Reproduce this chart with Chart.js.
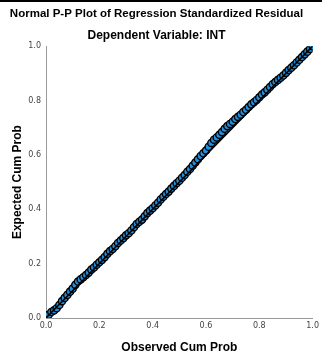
<!DOCTYPE html>
<html>
<head>
<meta charset="utf-8">
<script src="https://cdn.jsdelivr.net/npm/chart.js@4"></script>
<style>
  html, body { margin: 0; padding: 0; background: #fff; }
  #wrap { position: relative; width: 322px; height: 356px; }
</style>
</head>
<body>
<div id="wrap"><canvas id="ppPlot"></canvas></div>
<script>
// Data P-P plot
const observedCumProb = [
  0.01, 0.02, 0.03, 0.04, 0.05, 0.06, 0.07, 0.08, 0.09, 0.10,
  0.11, 0.12, 0.13, 0.14, 0.15, 0.16, 0.17, 0.18, 0.19, 0.20,
  0.21, 0.22, 0.23, 0.24, 0.25, 0.26, 0.27, 0.28, 0.29, 0.30,
  0.31, 0.32, 0.33, 0.34, 0.35, 0.36, 0.37, 0.38, 0.39, 0.40,
  0.41, 0.42, 0.43, 0.44, 0.45, 0.46, 0.47, 0.48, 0.49, 0.50,
  0.51, 0.52, 0.53, 0.54, 0.55, 0.56, 0.57, 0.58, 0.59, 0.60,
  0.61, 0.62, 0.63, 0.64, 0.65, 0.66, 0.67, 0.68, 0.69, 0.70,
  0.71, 0.72, 0.73, 0.74, 0.75, 0.76, 0.77, 0.78, 0.79, 0.80,
  0.81, 0.82, 0.83, 0.84, 0.85, 0.86, 0.87, 0.88, 0.89, 0.90,
  0.91, 0.92, 0.93, 0.94, 0.95, 0.96, 0.97, 0.98, 0.99, 1.00
];
const expectedCumProb = [
  0.012, 0.022, 0.028, 0.036, 0.048, 0.062, 0.074, 0.085, 0.097, 0.108,
  0.122, 0.134, 0.142, 0.150, 0.158, 0.167, 0.178, 0.186, 0.196, 0.205,
  0.214, 0.224, 0.236, 0.246, 0.254, 0.264, 0.276, 0.285, 0.294, 0.304,
  0.312, 0.322, 0.334, 0.346, 0.354, 0.362, 0.374, 0.386, 0.395, 0.404,
  0.414, 0.424, 0.436, 0.446, 0.456, 0.465, 0.476, 0.486, 0.496, 0.505,
  0.516, 0.526, 0.538, 0.548, 0.560, 0.572, 0.584, 0.596, 0.606, 0.616,
  0.630, 0.644, 0.656, 0.664, 0.674, 0.684, 0.696, 0.706, 0.714, 0.722,
  0.732, 0.740, 0.748, 0.758, 0.766, 0.776, 0.786, 0.794, 0.802, 0.812,
  0.822, 0.830, 0.840, 0.850, 0.860, 0.868, 0.876, 0.884, 0.892, 0.902,
  0.912, 0.921, 0.930, 0.940, 0.950, 0.960, 0.970, 0.980, 0.990, 1.000
];
// Garis referensi diagonal
const refLineX = [0, 1];
const refLineY = [0, 1];
const axisTicks = [0, 0.2, 0.4, 0.6, 0.8, 1.0];

const FONT = "'Liberation Sans', Arial, sans-serif";

// Latar putih + garis hitam di atas
const backdrop = {
    id: 'backdrop',
    beforeDraw(chart) {
        const ctx = chart.ctx;
        ctx.save();
        ctx.fillStyle = '#fff';
        ctx.fillRect(0, 0, chart.width, chart.height);
        ctx.fillStyle = '#000';
        ctx.fillRect(0, 0, chart.width, 2);
        ctx.restore();
    }
};

new Chart(document.getElementById('ppPlot'), {
    type: 'scatter',
    data: {
        datasets: [
            {
                label: 'Observed',
                data: observedCumProb.map((x, i) => ({ x, y: expectedCumProb[i] })),
                backgroundColor: '#2490dc',
                borderColor: '#000',
                borderWidth: 1.4,
                pointRadius: 3.6,
                pointHoverRadius: 3.6,
                order: 2,
            },
            {
                type: 'line',
                label: 'Reference',
                data: refLineX.map((x, i) => ({ x, y: refLineY[i] })),
                borderColor: '#000',
                borderWidth: 1.6,
                pointRadius: 0,
                fill: false,
                order: 1,
            },
        ],
    },
    options: {
        responsive: true,
        maintainAspectRatio: false,
        animation: false,
        layout: { padding: { top: 0, right: 9, left: 0, bottom: 0 } },
        plugins: {
            legend: { display: false },
            tooltip: { enabled: false },
            title: {
                display: true,
                text: 'Normal P-P Plot of Regression Standardized Residual',
                color: '#000',
                font: { family: FONT, size: 11.5, weight: 'bold' },
                padding: { top: 7, bottom: 8 },
            },
            subtitle: {
                display: true,
                text: 'Dependent Variable: INT',
                color: '#000',
                font: { family: FONT, size: 12, weight: 'bold' },
                padding: { top: 0, bottom: 3 },
            },
        },
        scales: {
            x: {
                type: 'linear',
                min: 0,
                max: 1,
                afterBuildTicks: (s) => { s.ticks = axisTicks.map(v => ({ value: v })); },
                afterFit: (s) => { s.height = 38; },
                grid: { display: false, drawTicks: false },
                border: { display: true, color: '#999', width: 1 },
                ticks: {
                    color: '#444',
                    padding: 3,
                    font: { family: "'DejaVu Sans', sans-serif", size: 8 },
                    callback: (v) => Number(v).toFixed(1),
                    maxRotation: 0,
                },
                title: {
                    display: true,
                    text: 'Observed Cum Prob',
                    color: '#000',
                    font: { family: FONT, size: 12, weight: 'bold' },
                    padding: { top: 0, bottom: 1 },
                },
            },
            y: {
                type: 'linear',
                min: 0,
                max: 1,
                afterBuildTicks: (s) => { s.ticks = axisTicks.map(v => ({ value: v })); },
                afterFit: (s) => { s.width = 46; },
                grid: { display: false, drawTicks: false },
                border: { display: true, color: '#999', width: 1 },
                ticks: {
                    color: '#444',
                    padding: 5,
                    font: { family: "'DejaVu Sans', sans-serif", size: 8 },
                    callback: (v) => Number(v).toFixed(1),
                },
                title: {
                    display: true,
                    text: 'Expected Cum Prob',
                    color: '#000',
                    font: { family: FONT, size: 12, weight: 'bold' },
                    padding: { top: 10, bottom: 0 },
                },
            },
        },
    },
    plugins: [backdrop],
});
</script>
</body>
</html>
